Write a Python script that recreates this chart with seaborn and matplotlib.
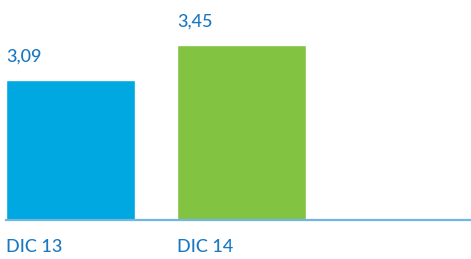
import matplotlib
matplotlib.use('Agg')
import matplotlib.pyplot as plt
import seaborn as sns
import pandas as pd

# datos
categorias = ["DIC 13", "DIC 14"]
valores = [3.09, 3.45]
etiquetas = ["3,09", "3,45"]
colores = ["#00A8E1", "#82C341"]

sns.set_style("white")
plt.rcParams['font.family'] = ['Lato', 'DejaVu Sans']

TEXTO = "#1A78C0"
ANCHO = 0.755

df = pd.DataFrame({"periodo": categorias, "valor": valores})

fig = plt.figure(figsize=(4.71, 2.59), dpi=100)
ax = fig.add_axes([6 / 471, 39 / 259, 465 / 471, 220 / 259])

sns.barplot(data=df, x="periodo", y="valor", hue="periodo",
            palette=colores, width=ANCHO, legend=False, ax=ax,
            saturation=1)

ax.set_xlim(-ANCHO / 2, -ANCHO / 2 + 465 / 171)
ax.set_ylim(1.65, 3.913)

for i, (v, t) in enumerate(zip(valores, etiquetas)):
    ax.annotate(t, (i - ANCHO / 2, v), xytext=(0, 13),
                textcoords="offset points", ha="left", va="baseline",
                color=TEXTO, fontsize=13, fontweight="medium")

ax.set_xticks([i - ANCHO / 2 for i in range(len(categorias))])
ax.set_xticklabels(categorias, ha="left", color=TEXTO, fontsize=13,
                   fontweight="medium")
ax.tick_params(axis="x", length=0, pad=14)
ax.set_yticks([])
ax.set_xlabel(""); ax.set_ylabel("")

for s in ["top", "right", "left"]:
    ax.spines[s].set_visible(False)
ax.spines["bottom"].set_color("#74B6E2")
ax.spines["bottom"].set_linewidth(1.6)

fig.savefig("out.png", dpi=100)
